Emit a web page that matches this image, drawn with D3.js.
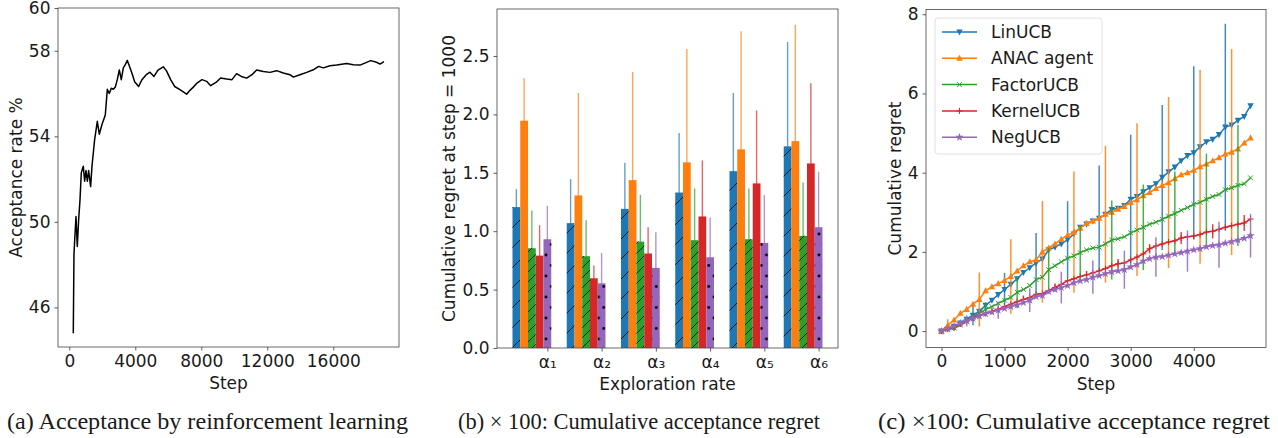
<!DOCTYPE html>
<html>
<head>
<meta charset="utf-8">
<script src="https://cdn.jsdelivr.net/npm/d3@7"></script>
<style>
	body { margin: 0; background: #fff; }
	svg text { font-family: "DejaVu Sans", sans-serif; fill: #1a1a1a; }
	.caption { font-family: "Liberation Serif", "Times New Roman", serif; }
</style>
</head>
<body>
<div id="graphic"></div>
<script>
// ---- data: panel (a) acceptance rate over steps
const stepsA = [242, 283, 404, 485, 566, 646, 727, 848, 929, 1010, 1091, 1172, 1293, 1374, 1535, 1697,
	1818, 1980, 2182, 2303, 2424, 2545, 2667, 2788, 2909, 3030, 3151, 3273, 3394, 3515, 3636, 3798,
	3960, 4202, 4404, 4687, 4889, 5131, 5374, 5697, 5899, 6141, 6384, 6707, 7111, 7313, 7515, 7758,
	8040, 8323, 8566, 8889, 9172, 9535, 9859, 10141, 10424, 10747, 11071, 11354, 11758, 12162, 12566,
	12970, 13374, 13576, 13980, 14384, 14788, 15111, 15394, 15798, 16202, 16808, 17212, 17616, 18020,
	18263, 18626, 18828, 19071];
const rateA = [44.79, 48.5, 50.25, 48.85, 50.1, 51.0, 52.3, 52.6, 51.9, 52.4, 51.9, 52.4, 51.65, 52.6, 53.84, 54.7,
	54.1, 54.55, 55.0, 56.2, 56.0, 56.25, 56.2, 56.3, 56.65, 57.1, 56.65, 57.2, 57.35, 57.55, 57.3, 56.95,
	56.55, 56.33, 56.65, 56.9, 57.0, 56.8, 57.1, 57.25, 57.05, 56.65, 56.33, 56.18, 55.97, 56.15, 56.3, 56.5,
	56.65, 56.57, 56.37, 56.52, 56.73, 56.68, 56.65, 56.93, 56.8, 56.72, 56.88, 57.1, 57.03, 56.99, 57.07,
	56.96, 56.88, 56.77, 56.88, 56.99, 57.11, 57.27, 57.2, 57.3, 57.33, 57.4, 57.35, 57.33, 57.46,
	57.54, 57.46, 57.38, 57.49];
const ticksAx = [0, 4000, 8000, 12000, 16000];
const ticksAy = [46, 50, 54, 58, 60];

// ---- data: panel (b) regret at step 1000 per exploration rate
const rateLabels = ["α₁", "α₂", "α₃", "α₄", "α₅", "α₆"];
const methods = ["LinUCB", "ANAC agent", "FactorUCB", "KernelUCB", "NegUCB"];
const barMeans = [
	[1.206, 1.069, 1.191, 1.331, 1.514, 1.726],
	[1.946, 1.306, 1.437, 1.589, 1.700, 1.771],
	[0.854, 0.786, 0.911, 0.923, 0.931, 0.960],
	[0.791, 0.597, 0.809, 1.126, 1.409, 1.580],
	[0.931, 0.554, 0.686, 0.777, 0.900, 1.034]
];
const barErrs = [
	[0.154, 0.377, 0.395, 0.509, 0.669, 0.894],
	[0.363, 0.877, 0.926, 0.971, 1.011, 0.995],
	[0.323, 0.308, 0.400, 0.443, 0.435, 0.457],
	[0.260, 0.109, 0.225, 0.480, 0.625, 0.686],
	[0.286, 0.260, 0.305, 0.340, 0.409, 0.475]
];
const ticksBy = [0, 0.5, 1.0, 1.5, 2.0, 2.5];

// ---- data: panel (c) cumulative regret, one point per 100 steps
const stepsC = d3.range(0, 5000, 100);
const regretLin = [0.00, 0.06, 0.12, 0.20, 0.30, 0.40, 0.50, 0.65, 0.78, 0.92, 1.05, 1.18, 1.32, 1.48, 1.60, 1.72,
	1.82, 2.05, 2.12, 2.20, 2.31, 2.45, 2.62, 2.70, 2.78, 2.85, 2.95, 3.07, 3.10, 3.17, 3.33, 3.40, 3.52,
	3.62, 3.72, 3.88, 4.02, 4.14, 4.30, 4.43, 4.50, 4.65, 4.78, 4.84, 4.96, 5.15, 5.20, 5.32, 5.42, 5.69];
const regretAnac = [0.00, 0.15, 0.28, 0.45, 0.55, 0.68, 0.80, 1.02, 1.12, 1.20, 1.28, 1.38, 1.52, 1.65, 1.75, 1.80,
	2.00, 2.10, 2.20, 2.32, 2.42, 2.50, 2.60, 2.72, 2.78, 2.85, 2.95, 3.00, 3.08, 3.15, 3.25, 3.32, 3.42,
	3.50, 3.60, 3.68, 3.75, 3.85, 3.95, 4.00, 4.06, 4.15, 4.22, 4.30, 4.38, 4.47, 4.52, 4.60, 4.75, 4.88];
const regretFactor = [0.00, 0.04, 0.08, 0.15, 0.25, 0.35, 0.45, 0.55, 0.62, 0.70, 0.78, 0.85, 0.98, 1.05, 1.15, 1.30,
	1.36, 1.55, 1.65, 1.75, 1.84, 1.90, 1.98, 2.05, 2.10, 2.12, 2.20, 2.30, 2.33, 2.38, 2.48, 2.55, 2.62,
	2.70, 2.75, 2.82, 2.90, 2.97, 3.05, 3.12, 3.20, 3.25, 3.33, 3.40, 3.45, 3.57, 3.62, 3.68, 3.72, 3.87];
const regretKernel = [0.00, 0.05, 0.10, 0.18, 0.25, 0.33, 0.40, 0.45, 0.50, 0.55, 0.62, 0.68, 0.74, 0.80, 0.85, 0.93,
	0.95, 1.02, 1.10, 1.18, 1.27, 1.32, 1.38, 1.42, 1.47, 1.52, 1.58, 1.65, 1.70, 1.72, 1.80, 1.87, 1.95,
	2.08, 2.15, 2.20, 2.25, 2.28, 2.35, 2.38, 2.40, 2.44, 2.50, 2.52, 2.57, 2.62, 2.66, 2.70, 2.73, 2.83];
const regretNeg = [0.00, 0.06, 0.12, 0.20, 0.26, 0.32, 0.38, 0.44, 0.48, 0.53, 0.57, 0.62, 0.66, 0.72, 0.78, 0.87,
	0.90, 1.00, 1.05, 1.10, 1.15, 1.22, 1.27, 1.30, 1.36, 1.40, 1.45, 1.50, 1.52, 1.55, 1.62, 1.68, 1.77,
	1.83, 1.87, 1.88, 1.92, 1.95, 1.98, 2.02, 2.05, 2.08, 2.13, 2.16, 2.18, 2.22, 2.26, 2.30, 2.34, 2.41];
// error bar half-widths, every 5th point, starting at index 0..4 for each method
const errLin = [0.02, 0.25, 0.42, 0.76, 0.97, 1.33, 1.63, 1.83, 2.19, 2.61];
const errAnac = [0.15, 0.68, 0.94, 1.28, 1.53, 1.73, 1.93, 2.16, 2.45, 2.60];
const errFactor = [0.08, 0.18, 0.40, 0.55, 0.68, 1.00, 1.08, 1.06, 1.15, 1.53];
const errKernel = [0.04, 0.07, 0.10, 0.10, 0.10, 0.12, 0.12, 0.15, 0.18, 0.20];
const errNeg = [0.14, 0.22, 0.30, 0.40, 0.42, 0.48, 0.50, 0.52, 0.58, 0.55];
const ticksCx = [0, 1000, 2000, 3000, 4000];
const ticksCy = [0, 2, 4, 6, 8];

const captions = [
	"(a)  Acceptance by reinforcement learning",
	"(b) × 100: Cumulative acceptance regret",
	"(c) ×100: Cumulative acceptance regret"
];

const colours = ["#1f77b4", "#ff7f0e", "#2ca02c", "#d62728", "#9467bd"];
const fontSize = 17;

let svg = d3.select('#graphic').append('svg')
	.attr('width', 1278)
	.attr('height', 438);

// hatch patterns for panel (b)
let defs = svg.append('defs');
function hatch(id, size) {
	defs.append('pattern')
		.attr('id', id)
		.attr('patternUnits', 'userSpaceOnUse')
		.attr('width', size).attr('height', size)
		.append('path')
		.attr('d', `M0,${size} L${size},0 M${-size / 2},${size / 2} L${size / 2},${-size / 2} M${size / 2},${size * 1.5} L${size * 1.5},${size / 2}`)
		.attr('stroke', '#000')
		.attr('stroke-width', 0.8);
}
hatch('hatch1', 20);
hatch('hatch2', 10);
//staggered dots, like matplotlib's '.' hatch
let dots = defs.append('pattern')
	.attr('id', 'dots')
	.attr('patternUnits', 'userSpaceOnUse')
	.attr('width', 10.5).attr('height', 21);
[[0, 3], [10.5, 3], [5.25, 13.5]].forEach(([cx, cy]) => {
	dots.append('circle').attr('cx', cx).attr('cy', cy).attr('r', 1.4).attr('fill', '#000');
});
const barPattern = ['hatch1', null, 'hatch2', null, 'dots'];

//draw the frame, ticks and labels matplotlib style
function frame(g, x, y, box, opts) {
	let xAxis = d3.axisBottom(x).tickValues(opts.xTicks).tickSize(3.5).tickPadding(4)
		.tickFormat(opts.xFormat || d3.format('d'));
	let yAxis = d3.axisLeft(y).tickValues(opts.yTicks).tickSize(3.5).tickPadding(4)
		.tickFormat(opts.yFormat || d3.format('d'));

	[[xAxis, `translate(0,${box.bottom})`], [yAxis, `translate(${box.left},0)`]].forEach(([ax, tr]) => {
		let a = g.append('g').attr('transform', tr).call(ax);
		a.select('.domain').remove();
		a.selectAll('line').attr('stroke', '#333').attr('stroke-width', 0.8);
		a.selectAll('text').attr('font-size', fontSize).attr('fill', '#1a1a1a')
			.style('font-family', '"DejaVu Sans", sans-serif');
	});

	g.append('rect')
		.attr('x', box.left).attr('y', box.top)
		.attr('width', box.right - box.left).attr('height', box.bottom - box.top)
		.attr('fill', 'none').attr('stroke', '#444').attr('stroke-width', 0.8);

	g.append('text')
		.attr('x', (box.left + box.right) / 2).attr('y', box.bottom + 42)
		.attr('text-anchor', 'middle').attr('font-size', fontSize)
		.text(opts.xLabel);

	g.append('text')
		.attr('transform', `translate(${opts.yLabelX},${(box.top + box.bottom) / 2}) rotate(-90)`)
		.attr('text-anchor', 'middle').attr('dy', '0.35em').attr('font-size', fontSize)
		.text(opts.yLabel);
}

// ---------- panel (a)
function drawA() {
	const box = { left: 58, right: 399, top: 8, bottom: 347 };
	const x = d3.scaleLinear().domain([-685, 19982]).range([box.left, box.right]);
	const y = d3.scaleLinear().domain([44.15, 60]).range([box.bottom, box.top]);
	let g = svg.append('g');

	g.append('path')
		.datum(d3.zip(stepsA, rateA))
		.attr('d', d3.line().x(d => x(d[0])).y(d => y(d[1])))
		.attr('fill', 'none').attr('stroke', '#000').attr('stroke-width', 1.5)
		.attr('stroke-linejoin', 'round');

	frame(g, x, y, box, { xTicks: ticksAx, yTicks: ticksAy, xLabel: 'Step', yLabel: 'Acceptance rate %', yLabelX: 16 });
}

// ---------- panel (b)
function drawB() {
	const box = { left: 497, right: 838, top: 9, bottom: 348 };
	const barW = 1 / 7;
	const x = d3.scaleLinear().domain([-0.357, 5.929]).range([box.left, box.right]);
	const y = d3.scaleLinear().domain([0, 2.902]).range([box.bottom, box.top]);
	let g = svg.append('g');
	const w = x(barW) - x(0);

	methods.forEach((m, k) => {
		barMeans[k].forEach((v, i) => {
			let cx = x(i + k * barW);
			// error bar sits behind the bar
			g.append('line')
				.attr('x1', cx).attr('x2', cx)
				.attr('y1', y(Math.max(0, v - barErrs[k][i]))).attr('y2', y(v + barErrs[k][i]))
				.attr('stroke', colours[k]).attr('stroke-opacity', 0.7).attr('stroke-width', 1.4);
			g.append('rect')
				.attr('x', cx - w / 2).attr('y', y(v))
				.attr('width', w).attr('height', y(0) - y(v))
				.attr('fill', colours[k]);
			if (barPattern[k]) {
				g.append('rect')
					.attr('x', cx - w / 2).attr('y', y(v))
					.attr('width', w).attr('height', y(0) - y(v))
					.attr('fill', `url(#${barPattern[k]})`);
			}
		});
	});

	frame(g, x, y, box, {
		xTicks: d3.range(6).map(i => i + 4 * barW),
		xFormat: (d, i) => rateLabels[i],
		yTicks: ticksBy, yFormat: d3.format('.1f'),
		xLabel: 'Exploration rate', yLabel: 'Cumulative regret at step = 1000', yLabelX: 449
	});
}

// ---------- panel (c)
function marker(sel, k) {
	const s = 3.2;
	if (k === 0) {
		sel.append('path').attr('d', `M${-s},${-s * 0.8} L${s},${-s * 0.8} L0,${s * 1.1} Z`).attr('fill', colours[k]);
	} else if (k === 1) {
		sel.append('path').attr('d', `M${-s},${s * 0.8} L${s},${s * 0.8} L0,${-s * 1.1} Z`).attr('fill', colours[k]);
	} else if (k === 2) {
		sel.append('path').attr('d', 'M-2.4,-2.4 L2.4,2.4 M-2.4,2.4 L2.4,-2.4').attr('stroke', colours[k]).attr('stroke-width', 1);
	} else if (k === 3) {
		sel.append('path').attr('d', 'M-3,0 L3,0 M0,-3 L0,3').attr('stroke', colours[k]).attr('stroke-width', 1);
	} else {
		sel.append('path').attr('d', d3.symbol(d3.symbolStar, 22)()).attr('fill', colours[k]);
	}
}

function drawC() {
	const box = { left: 926, right: 1266, top: 9.5, bottom: 347.5 };
	const x = d3.scaleLinear().domain([-245, 5145]).range([box.left, box.right]);
	const y = d3.scaleLinear().domain([-0.414, 8.12]).range([box.bottom, box.top]);
	let g = svg.append('g');
	const series = [regretLin, regretAnac, regretFactor, regretKernel, regretNeg];
	const errs = [errLin, errAnac, errFactor, errKernel, errNeg];

	series.forEach((vals, k) => {
		let sg = g.append('g');
		// error bars every 5th point, shifted per method
		errs[k].forEach((e, j) => {
			let i = k + 5 * j;
			sg.append('line')
				.attr('x1', x(stepsC[i])).attr('x2', x(stepsC[i]))
				.attr('y1', y(vals[i] - e)).attr('y2', y(vals[i] + e))
				.attr('stroke', colours[k]).attr('stroke-opacity', 0.85).attr('stroke-width', 1.5);
		});
		sg.append('path')
			.datum(d3.zip(stepsC, vals))
			.attr('d', d3.line().x(d => x(d[0])).y(d => y(d[1])))
			.attr('fill', 'none').attr('stroke', colours[k]).attr('stroke-width', 1.5);
		vals.forEach((v, i) => {
			sg.append('g').attr('transform', `translate(${x(stepsC[i])},${y(v)})`).call(marker, k);
		});
	});

	frame(g, x, y, box, { xTicks: ticksCx, yTicks: ticksCy, xLabel: 'Step', yLabel: 'Cumulative regret', yLabelX: 895 });

	// legend
	let lg = g.append('g');
	lg.append('rect')
		.attr('x', 935).attr('y', 18).attr('width', 167).attr('height', 136).attr('rx', 3)
		.attr('fill', '#fff').attr('fill-opacity', 0.8).attr('stroke', '#d8d8d8').attr('stroke-width', 0.8);
	methods.forEach((m, k) => {
		let ly = 32 + k * 26.3;
		lg.append('line').attr('x1', 942).attr('x2', 977).attr('y1', ly).attr('y2', ly)
			.attr('stroke', colours[k]).attr('stroke-width', 1.5);
		lg.append('g').attr('transform', `translate(959.5,${ly})`).call(marker, k);
		lg.append('text').attr('x', 991).attr('y', ly).attr('dy', '0.35em')
			.attr('font-size', fontSize).text(m);
	});
}

function drawCaptions() {
	const spans = [[7, 408], [458, 820], [878, 1270]];
	captions.forEach((c, i) => {
		svg.append('text')
			.attr('class', 'caption')
			.attr('x', spans[i][0]).attr('y', 429)
			.attr('font-size', 24)
			.attr('textLength', spans[i][1] - spans[i][0])
			.attr('lengthAdjust', 'spacingAndGlyphs')
			.style('font-family', '"Liberation Serif", serif')
			.text(c);
	});
}

drawA();
drawB();
drawC();
drawCaptions();
</script>
</body>
</html>
